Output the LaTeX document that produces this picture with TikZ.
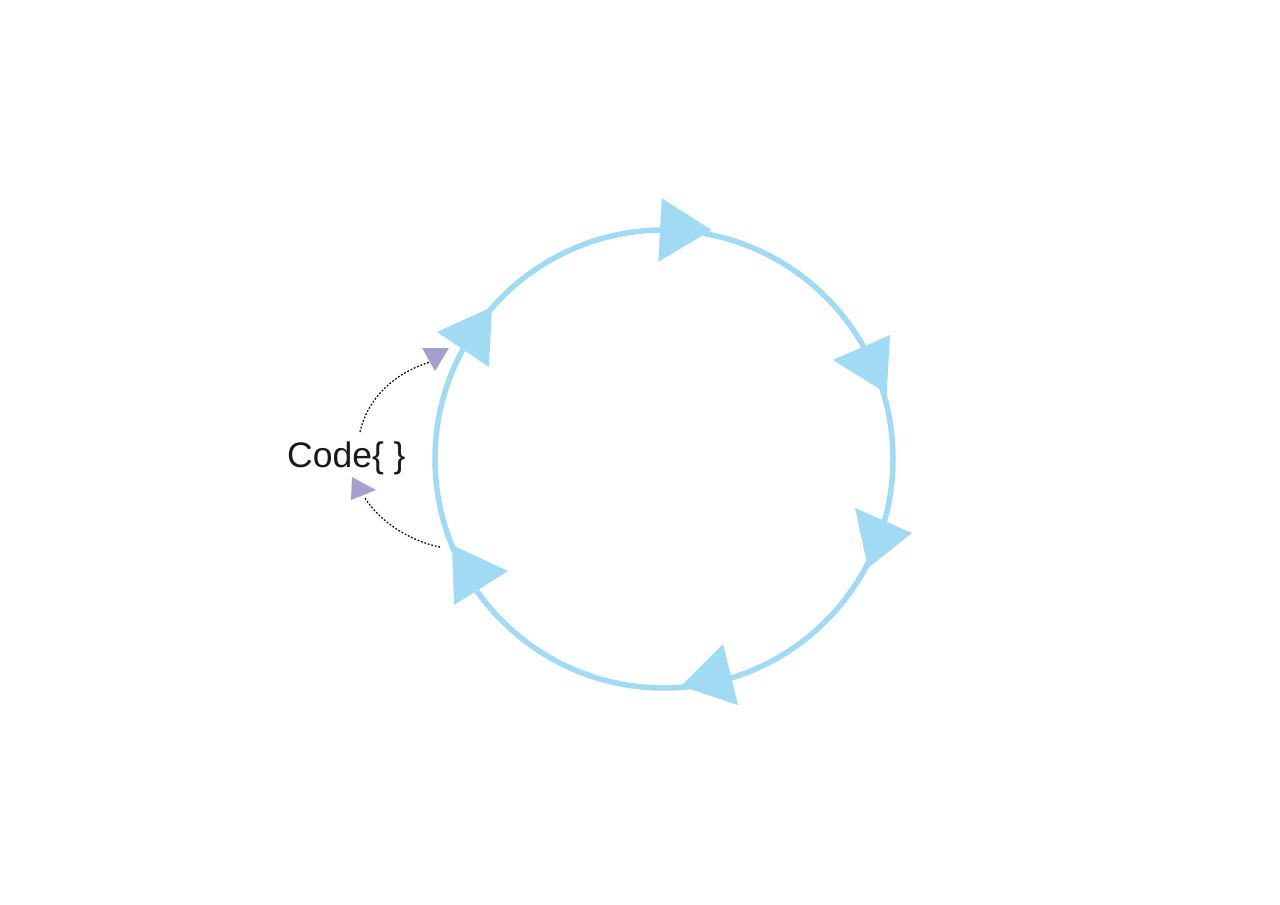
\documentclass[tikz,border=0pt]{standalone}
\usepackage{fontspec}
\setmainfont{Liberation Sans}
\definecolor{cblue}{RGB}{160,218,243}
\definecolor{cpurple}{RGB}{165,160,205}
\begin{document}
\begin{tikzpicture}[x=1pt,y=-1pt,
  ring/.style={draw=cblue,line width=5.5pt},
  bluetri/.style={fill=cblue,draw=none},
  purptri/.style={fill=cpurple,draw=none},
  dotline/.style={draw=black,line width=1.2pt,dash pattern=on 1.8pt off 1.8pt},
  lbl/.style={font=\fontsize{35.5}{42}\selectfont,text=black!90,inner sep=0pt,anchor=base west}]
\useasboundingbox (0,0) rectangle (1280,905);
\draw[ring] (664,459) circle [radius=229pt];
% blue arrow triangles
\fill[bluetri] (661.7,198.3) -- (658.3,261.7) -- (711.7,230) -- cycle;
\fill[bluetri] (890,335) -- (832.7,360) -- (886.7,393.3) -- cycle;
\fill[bluetri] (855,508) -- (868,568) -- (912,533) -- cycle;
\fill[bluetri] (723,644) -- (681,686) -- (738,705) -- cycle;
\fill[bluetri] (452,545) -- (508,571) -- (454,605) -- cycle;
\fill[bluetri] (437,332) -- (492,307) -- (489,367) -- cycle;
% label
\node[lbl] (code) at (287,467) {Code\{ \}};
\coordinate (ustart) at (360,432);
\coordinate (uend) at (430,362);
\coordinate (lstart) at (440,547);
\coordinate (lend) at (365,498);
\draw[dotline] (ustart) .. controls (368,397) and (395,373) .. (uend);
\draw[dotline] (lstart) .. controls (410,541) and (380,522) .. (lend);
\fill[purptri] (422,348) -- (449,348) -- (435,371) -- cycle;
\fill[purptri] (352,477) -- (376,490) -- (351,500) -- cycle;
\end{tikzpicture}
\end{document}
